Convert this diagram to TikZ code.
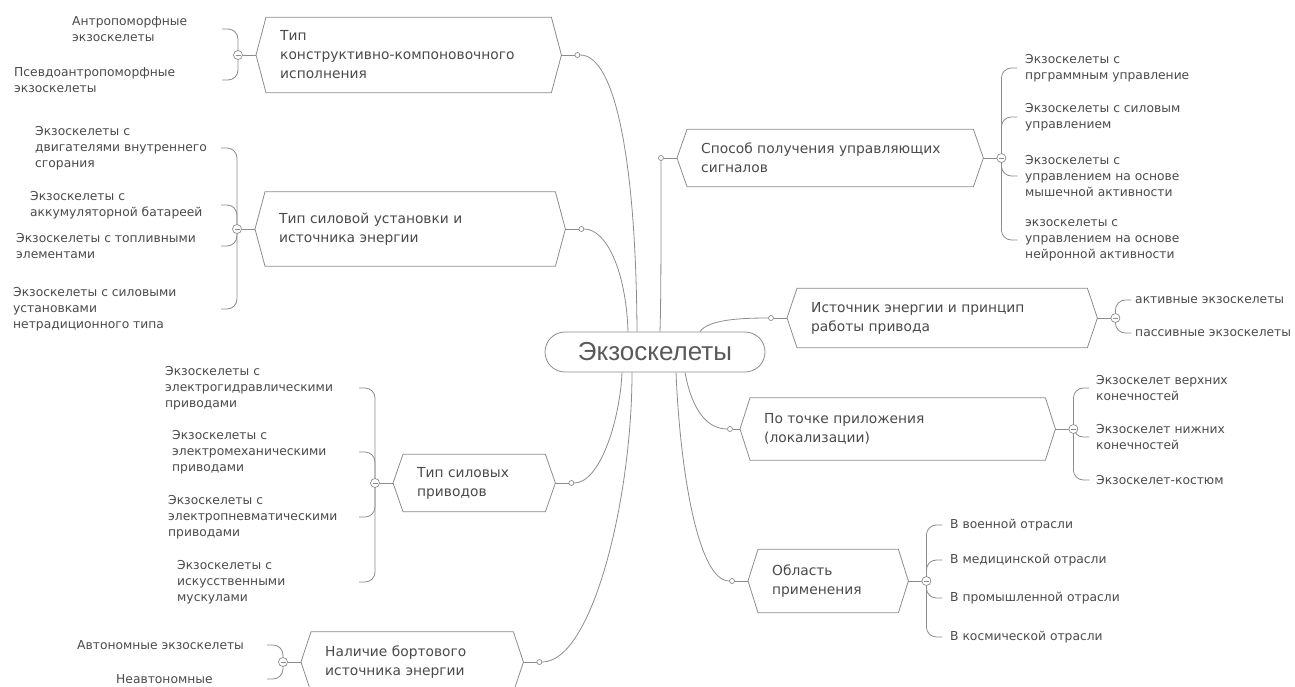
\documentclass[tikz,border=0pt]{standalone}
\usepackage{fontspec}
\setmainfont{DejaVu Sans}
\newfontfamily\hubfont{Liberation Sans}
\usetikzlibrary{calc}

\definecolor{linegray}{HTML}{8C8C8C}
\definecolor{textgray}{HTML}{4A4A4A}

% hexagon round a branch node, tips named <name>-l and <name>-r
\newcommand{\hexbox}[1]{%
  \draw[boxline] (#1.north west) -- (#1.north east) -- ([xshift=10]#1.east) coordinate (#1-r)
    -- (#1.south east) -- (#1.south west) -- ([xshift=-10]#1.west) coordinate (#1-l) -- cycle;}

\begin{document}
\begin{tikzpicture}[x=1pt,y=-1pt,
    boxline/.style={draw=linegray,line width=0.8pt},
    link/.style={draw=linegray,line width=0.8pt},
    brace/.style={draw=linegray,line width=0.8pt,rounded corners=10},
    branch/.style={anchor=west,inner xsep=14,inner ysep=0,align=flush left,
      font=\fontsize{13.8}{19}\selectfont,text=textgray},
    leaf/.style={anchor=west,inner sep=0,align=flush left,
      font=\fontsize{12.3}{16}\selectfont,text=textgray},
    knob/.style={circle,draw=linegray,fill=white,inner sep=0,minimum size=5,line width=0.7pt},
    fold/.style={circle,draw=linegray,fill=white,inner sep=0,minimum size=9,line width=0.7pt,
      path picture={\draw[linegray,line width=0.7pt]
        ([xshift=-2.5]path picture bounding box.center) -- ([xshift=2.5]path picture bounding box.center);}}
  ]
  \useasboundingbox (0,0) rectangle (1295,686);

  % centre
  \node[draw=linegray,line width=0.8pt,rounded corners=20,minimum width=220,minimum height=40,
    font=\hubfont\fontsize{26}{30}\selectfont,text=black!65] (hub) at (655,352) {Экзоскелеты};

  % branches
  \node[branch,text width=257,minimum height=75] (b1) at (266,55) {Тип\\конструктивно-компоновочного\\исполнения};
  \node[branch,text width=262,minimum height=74] (b2) at (265,229) {Тип силовой установки и\\источника энергии};
  \node[branch,text width=114,minimum height=57] (b3) at (403,483) {Тип силовых\\приводов};
  \node[branch,text width=174,minimum height=60] (b4) at (311,662) {Наличие бортового\\источника энергии};
  \node[branch,text width=258,minimum height=57] (b5) at (687,158) {Способ получения управляющих\\сигналов};
  \node[branch,text width=262,minimum height=59] (b6) at (797,318) {Источник энергии и принцип\\работы привода};
  \node[branch,text width=267,minimum height=62] (b7) at (750,429) {По точке приложения\\(локализации)};
  \node[branch,text width=112,minimum height=63] (b8) at (758,581) {Область\\применения};
  \foreach \b in {b1,b2,b3,b4,b5,b6,b7,b8} {\hexbox{\b}}

  % leaves
  \node[leaf] (a11) at (72,29) {Антропоморфные\\экзоскелеты};
  \node[leaf] (a12) at (14,80) {Псевдоантропоморфные\\экзоскелеты};

  \node[leaf] (a21) at (35,148) {Экзоскелеты с\\двигателями внутреннего\\сгорания};
  \node[leaf] (a22) at (30,205) {Экзоскелеты с\\аккумуляторной батареей};
  \node[leaf] (a23) at (16,246) {Экзоскелеты с топливными\\элементами};
  \node[leaf] (a24) at (13,309) {Экзоскелеты с силовыми\\установками\\нетрадиционного типа};

  \node[leaf] (a31) at (165,388) {Экзоскелеты с\\электрогидравлическими\\приводами};
  \node[leaf] (a32) at (172,452) {Экзоскелеты с\\электромеханическими\\приводами};
  \node[leaf] (a33) at (168,517) {Экзоскелеты с\\электропневматическими\\приводами};
  \node[leaf] (a34) at (177,582) {Экзоскелеты с\\искусственными\\мускулами};

  \node[leaf] (a41) at (77,645) {Автономные экзоскелеты};
  \node[leaf] (a42) at (116,679) {Неавтономные};

  \node[leaf] (a51) at (1025,68) {Экзоскелеты с\\прграммным управление};
  \node[leaf] (a52) at (1025,117) {Экзоскелеты с силовым\\управлением};
  \node[leaf] (a53) at (1025,176) {Экзоскелеты с\\управлением на основе\\мышечной активности};
  \node[leaf] (a54) at (1025,240) {экзоскелеты с\\управлением на основе\\нейронной активности};

  \node[leaf] (a61) at (1135,300) {активные экзоскелеты};
  \node[leaf] (a62) at (1135,333) {пассивные экзоскелеты};

  \node[leaf] (a71) at (1096,388) {Экзоскелет верхних\\конечностей};
  \node[leaf] (a72) at (1096,437) {Экзоскелет нижних\\конечностей};
  \node[leaf] (a73) at (1096,480) {Экзоскелет-костюм};

  \node[leaf] (a81) at (950,525) {В военной отрасли};
  \node[leaf] (a82) at (950,560) {В медицинской отрасли};
  \node[leaf] (a83) at (950,598) {В промышленной отрасли};
  \node[leaf] (a84) at (950,637) {В космической отрасли};

  % fold points and brace ends
  \foreach \b in {1,...,4} {
    \coordinate (f\b) at ([xshift=-18]b\b-l);
    \coordinate (e\b) at ([xshift=-16]f\b);
  }
  \foreach \b in {5,...,8} {
    \coordinate (f\b) at ([xshift=18]b\b-r);
    \coordinate (e\b) at ([xshift=16]f\b);
  }

  % braces
  \foreach \a in {a11,a12} {\draw[brace] (f1) |- (e1 |- \a);}
  \foreach \a in {a21,a22,a23,a24} {\draw[brace] (f2) |- (e2 |- \a);}
  \foreach \a in {a31,a32,a33,a34} {\draw[brace] (f3) |- (e3 |- \a);}
  \foreach \a in {a41,a42} {\draw[brace] (f4) |- (e4 |- \a);}
  \foreach \a in {a51,a52,a53,a54} {\draw[brace] (f5) |- (e5 |- \a);}
  \foreach \a in {a61,a62} {\draw[brace] (f6) |- (e6 |- \a);}
  \foreach \a in {a71,a72,a73} {\draw[brace] (f7) |- (e7 |- \a);}
  \foreach \a in {a81,a82,a83,a84} {\draw[brace] (f8) |- (e8 |- \a);}

  % knobs towards the centre, folds towards the leaves
  \node[knob] (k1) at ([xshift=16]b1-r) {};
  \node[knob] (k2) at ([xshift=16]b2-r) {};
  \node[knob] (k3) at ([xshift=16]b3-r) {};
  \node[knob] (k4) at ([xshift=16]b4-r) {};
  \node[knob] (k5) at ([xshift=-16]b5-l) {};
  \node[knob] (k6) at ([xshift=-16]b6-l) {};
  \node[knob] (k7) at ([xshift=-10]b7-l) {};
  \node[knob] (k8) at ([xshift=-16]b8-l) {};
  \foreach \b in {1,...,8} {\node[fold] (m\b) at (f\b) {};}
  \foreach \b in {1,...,4} {
    \draw[link] (b\b-r) -- (k\b);
    \draw[link] (b\b-l) -- (m\b);
  }
  \foreach \b in {5,...,8} {
    \draw[link] (b\b-l) -- (k\b);
    \draw[link] (b\b-r) -- (m\b);
  }

  % links to the centre
  \draw[link] (k1) .. controls (615,55) and (636,160) .. ([xshift=-18]hub.north);
  \draw[link] (k2) .. controls (606,229) and (626,270) .. ([xshift=-27]hub.north);
  \draw[link] (k3) .. controls (600,483) and (620,420) .. ([xshift=-33]hub.south);
  \draw[link] (k4) .. controls (592,662) and (632,500) .. ([xshift=-23]hub.south);
  \draw[link] (k5) .. controls (661,250) and (661,300) .. ([xshift=5]hub.north);
  \draw[link] (k6) .. controls (738,318) and (708,320) .. ([xshift=45]hub.north);
  \draw[link] (k7) .. controls (702,429) and (690,400) .. ([xshift=30]hub.south);
  \draw[link] (k8) .. controls (698,581) and (680,470) .. ([xshift=21]hub.south);
\end{tikzpicture}
\end{document}
